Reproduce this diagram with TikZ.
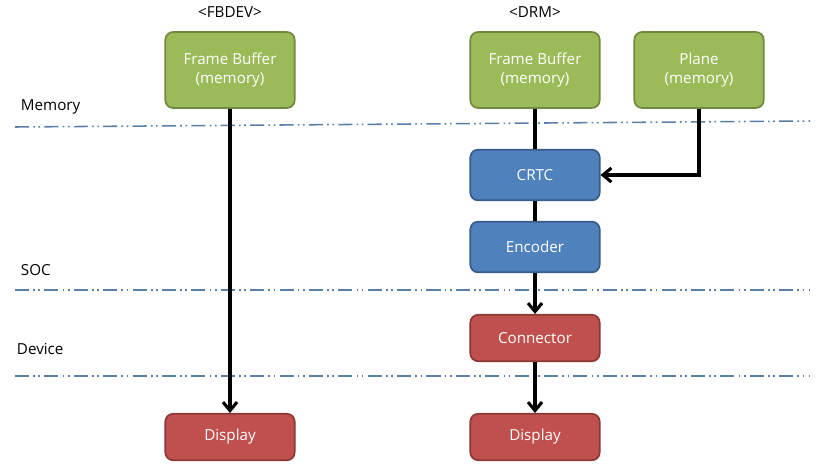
\documentclass[tikz,border=0pt]{standalone}
\usepackage{fontspec}
\setmainfont{Open Sans}
\usetikzlibrary{arrows.meta}
\definecolor{memgreen}{HTML}{9BBB59}
\definecolor{memgreenb}{HTML}{71893F}
\definecolor{socblue}{HTML}{4F81BD}
\definecolor{socblueb}{HTML}{385D8A}
\definecolor{devred}{HTML}{C0504D}
\definecolor{devredb}{HTML}{8C3836}
\definecolor{layerline}{HTML}{5A7FA8}
\tikzset{
  block/.style={draw, line width=1.2pt, rounded corners=5.5pt, text=white,
    minimum width=92pt, align=center, font=\fontsize{10.8}{13}\selectfont},
  membox/.style={block, fill=memgreen, draw=memgreenb, minimum height=54pt},
  socbox/.style={block, fill=socblue, draw=socblueb, minimum height=36pt},
  devbox/.style={block, fill=devred, draw=devredb, minimum height=33pt},
  layer/.style={layerline, line width=1.1pt,
    dash pattern=on 10pt off 3pt on 1.2pt off 2.5pt on 1.2pt off 3pt},
  lbl/.style={font=\fontsize{10.8}{13}\selectfont},
  link/.style={line width=2.2pt},
  flow/.style={link, -{Straight Barb[length=6pt, width=10pt, line width=2.2pt]}}
}
\begin{document}
\begin{tikzpicture}[x=0.025cm, y=-0.025cm]
    \useasboundingbox (0,0) rectangle (820,467);

    % Linee dei livelli
    \draw[layer] (15,127) -- (810,121);
    \draw[layer] (15,290) -- (810,290);
    \draw[layer] (15,376) -- (810,376);

    % Etichette dei livelli
    \node[lbl, anchor=west] (memory) at (16,107) {Memory};
    \node[lbl, anchor=west] (soc) at (16,270) {SOC};
    \node[lbl, anchor=west] (device) at (12,349) {Device};

    % Titoli
    \node[lbl] (fbdev) at (230,12) {<FBDEV>};
    \node[lbl] (drm) at (535,12) {<DRM>};

    % Lato FBDEV
    \node[membox] (fbA) at (230,70) {Frame Buffer\\(memory)};
    \node[devbox] (dispA) at (230,437) {Display};

    % Lato DRM
    \node[membox] (fbB) at (535,70) {Frame Buffer\\(memory)};
    \node[membox] (plane) at (699,70) {Plane\\(memory)};
    \node[socbox] (crtc) at (535,175) {CRTC};
    \node[socbox] (enc) at (535,247) {Encoder};
    \node[devbox] (conn) at (535,338) {Connector};
    \node[devbox] (dispB) at (535,437) {Display};

    % Collegamenti
    \draw[flow] (fbA) -- (dispA);
    \draw[link] (fbB) -- (crtc);
    \draw[flow] (plane.south) |- (crtc.east);
    \draw[link] (crtc) -- (enc);
    \draw[flow] (enc) -- (conn);
    \draw[flow] (conn) -- (dispB);
\end{tikzpicture}
\end{document}
